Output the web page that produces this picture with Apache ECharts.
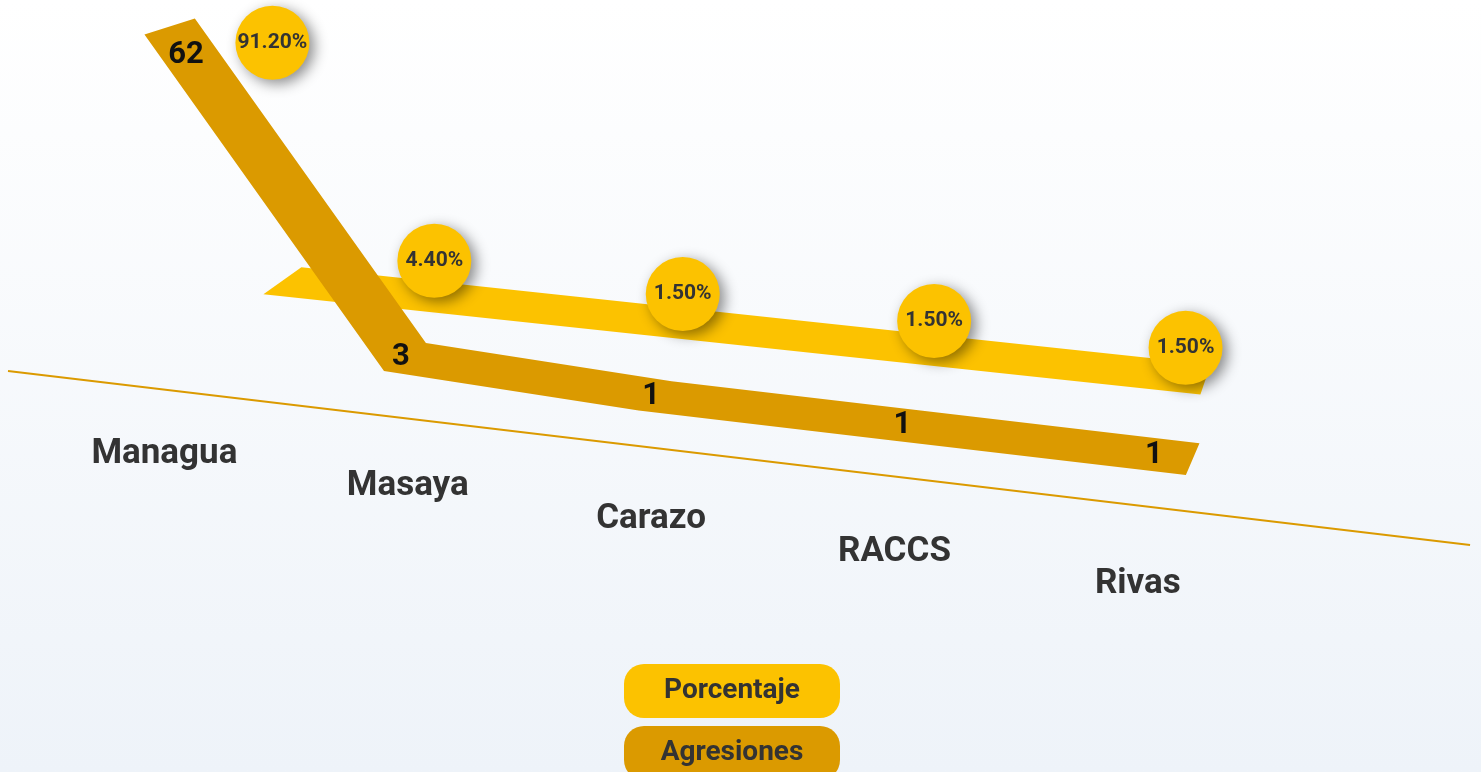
<!DOCTYPE html>
<html><head><meta charset="utf-8">
<script src="https://cdn.jsdelivr.net/npm/echarts@6/dist/echarts.min.js"></script>
<style>
html,body{margin:0;padding:0;width:100%;height:100%;overflow:hidden;background:linear-gradient(180deg,#ffffff 0%,#eef3f9 100%);}
#c{width:1481px;height:772px;}
</style>
</head><body><div id="c"></div><script>
// ---- data ----
const categories = ['Managua', 'Masaya', 'Carazo', 'RACCS', 'Rivas'];
const agresiones = [62, 3, 1, 1, 1];
const porcentaje = [91.2, 4.4, 1.5, 1.5, 1.5];

// ---- style ----
const BROWN = '#db9a00', YELLOW = '#fcc200', TEXT = '#333333';
const FONT = 'Roboto, "Noto Sans", sans-serif';
const VP1 = [1570, -420], K1 = 0.036;   // perspective for the front ribbon
const VP2 = [1548, -620], K2 = 0.030;   // perspective for the back ribbon

function depth(p, vp, k) { return [k * (vp[0] - p[0]), k * (vp[1] - p[1])]; }

// brown frame: shear of the cartesian grid
function brownPoint(api, i, v) {
  const o = api.coord([0, 0]);
  const c = api.coord([i, v]);
  return [c[0] + 0.1336 * (o[1] - c[1]), c[1] + 0.1177 * (c[0] - o[0])];
}
// yellow frame
function yellowBaseY(api, x) {
  const o = api.coord([0, 0]);
  return o[1] - 74.6 + 0.107 * (x - o[0]);
}
function yellowPoint(api, i, v) {
  const b = api.coord([i, 0]);
  const c = api.coord([i, v]);
  const h = b[1] - c[1];
  const xb = b[0] + 26.7;
  const yb = yellowBaseY(api, xb);
  return [xb + 0.468 * h, yb - 26 - h];
}

function ribbonPolygon(pts, vp, k) {
  const front = [], back = [];
  pts.forEach(p => {
    const d = depth(p, vp, k);
    front.push([p[0] - d[0] / 2, p[1] - d[1] / 2]);
    back.push([p[0] + d[0] / 2, p[1] + d[1] / 2]);
  });
  return front.concat(back.reverse());
}

function renderBrownRibbon(params, api) {
  if (params.dataIndex !== 0) return null;
  const P = agresiones.map((v, i) => brownPoint(api, i, v));
  const n = P.length, ext = 35;
  const u0 = [P[0][0] - P[1][0], P[0][1] - P[1][1]], l0 = Math.hypot(u0[0], u0[1]);
  const u1 = [P[n - 1][0] - P[n - 2][0], P[n - 1][1] - P[n - 2][1]], l1 = Math.hypot(u1[0], u1[1]);
  const pts = P.slice();
  pts[0] = [P[0][0] + ext * u0[0] / l0, P[0][1] + ext * u0[1] / l0];
  pts[n - 1] = [P[n - 1][0] + ext * u1[0] / l1, P[n - 1][1] + ext * u1[1] / l1];
  return { type: 'polygon', shape: { points: ribbonPolygon(pts, VP1, K1) }, style: { fill: BROWN } };
}

function renderBrownLabel(params, api) {
  const i = params.dataIndex;
  const p = brownPoint(api, i, api.value(1));
  return { type: 'text', style: { text: String(api.value(1)), x: p[0] - 4, y: p[1], align: 'center', verticalAlign: 'middle',
    fill: '#111', font: 'bold 31px ' + FONT } };
}

function renderTrack(params, api) {
  if (params.dataIndex !== 0) return null;
  const n = porcentaje.length;
  const xl = yellowPoint(api, 0, porcentaje[0])[0] + 10;
  const xr = yellowPoint(api, n - 1, porcentaje[n - 1])[0] + 20;
  const pts = [[xl, yellowBaseY(api, xl)], [xr, yellowBaseY(api, xr)]];
  return { type: 'polygon', shape: { points: ribbonPolygon(pts, VP2, K2) }, style: { fill: YELLOW } };
}

function renderBubble(params, api) {
  const i = params.dataIndex, v = api.value(1);
  const p = yellowPoint(api, i, v);
  return { type: 'group', children: [
    { type: 'circle', shape: { cx: p[0], cy: p[1], r: 37 },
      style: { fill: YELLOW, shadowBlur: 14, shadowColor: 'rgba(0,0,0,0.45)', shadowOffsetX: 5, shadowOffsetY: 4 } },
    { type: 'text', style: { text: v.toFixed(2) + '%', x: p[0], y: p[1], align: 'center', verticalAlign: 'middle',
      fill: TEXT, font: 'bold 21px ' + FONT } }
  ] };
}

function renderAxis(params, api) {
  const i = params.dataIndex;
  const o = api.coord([0, 0]);
  const c = api.coord([i, 0]);
  const lx = o[0] + 12.7 + 0.968 * (c[0] - o[0]);
  const ly = o[1] + 112.5 + 0.1343 * (lx - o[0] - 12.7);
  const children = [{ type: 'text', style: { text: categories[i], x: lx, y: ly, align: 'center', verticalAlign: 'middle',
    fill: TEXT, font: 'bold 35px ' + FONT } }];
  if (i === 0) {
    const e = api.coord([categories.length - 1, 0]);
    const span = e[0] - o[0];
    const x1 = o[0] - 0.1429 * span, x2 = o[0] + 1.311 * span;
    const yAt = x => o[1] + 46.8 + 0.119 * (x - o[0]);
    children.unshift({ type: 'line', shape: { x1: x1, y1: yAt(x1), x2: x2, y2: yAt(x2) }, style: { stroke: BROWN, lineWidth: 2 } });
  }
  return { type: 'group', children: children };
}

const chart = echarts.init(document.getElementById('c'), null, { renderer: 'canvas' });
chart.setOption({
  backgroundColor: 'transparent',
  animation: false,
  grid: { left: 151.7, right: 323.7, top: 55, bottom: 430.7, containLabel: false },
  xAxis: { type: 'category', data: categories, boundaryGap: false, show: false },
  yAxis: [
    { type: 'value', min: 0, max: 62, show: false },
    { type: 'value', min: 0, max: 130, show: false }
  ],
  legend: {
    orient: 'vertical', left: 619, top: 664, height: 200, itemGap: 8, padding: 0,
    icon: 'none', itemWidth: 0, itemHeight: 0,
    data: ['Porcentaje', 'Agresiones'],
    formatter: n => (n === 'Porcentaje' ? '{p|' : '{a|') + n + '}',
    textStyle: { rich: {
      p: { backgroundColor: YELLOW, color: TEXT, fontSize: 28, fontWeight: 'bold', fontFamily: FONT, width: 216, height: 54, lineHeight: 54, align: 'center', borderRadius: 20 },
      a: { backgroundColor: BROWN, color: TEXT, fontSize: 28, fontWeight: 'bold', fontFamily: FONT, width: 216, height: 54, lineHeight: 54, align: 'center', borderRadius: 20 }
    } }
  },
  series: [
    { type: 'custom', name: 'Ejes', z: 1, clip: false, silent: true, renderItem: renderAxis, data: categories.map((c, i) => [i, 0]) },
    { type: 'custom', name: 'Porcentaje', yAxisIndex: 1, z: 2, clip: false, silent: true, renderItem: renderTrack, data: porcentaje.map((v, i) => [i, v]) },
    { type: 'custom', name: 'Agresiones', yAxisIndex: 0, z: 3, clip: false, renderItem: renderBrownRibbon, data: agresiones.map((v, i) => [i, v]) },
    { type: 'custom', name: 'Agresiones', yAxisIndex: 0, z: 4, clip: false, renderItem: renderBrownLabel, data: agresiones.map((v, i) => [i, v]) },
    { type: 'custom', name: 'Porcentaje', yAxisIndex: 1, z: 5, clip: false, renderItem: renderBubble, data: porcentaje.map((v, i) => [i, v]) }
  ]
});
</script></body></html>
